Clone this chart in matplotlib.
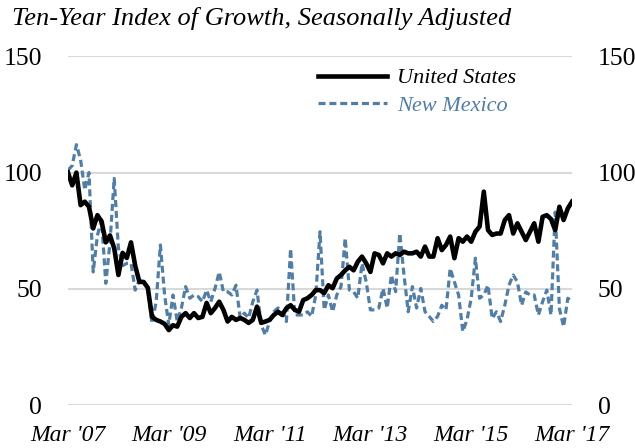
import matplotlib
matplotlib.use("Agg")
import matplotlib.pyplot as plt
import numpy as np

# Monthly index values, Mar 2007 = 100 (seasonally adjusted)
us_index = [
    100, 94.5, 100, 86, 87.5, 85.3, 76, 81.7, 79, 70, 73, 67.5,
    56, 65.5, 63.3, 70, 60, 53, 53, 50.5, 38, 36.7, 36, 35,
    32.3, 34.4, 33.8, 38, 39.6, 37.5, 39.6, 37.5, 38, 44, 39.6, 41.8,
    44.5, 41, 36, 38, 36.7, 37.5, 36.7, 35.4, 36.7, 42.4, 35.4, 36,
    36.7, 38.8, 40.2, 38.8, 41.7, 43, 41, 40.2, 45.2, 46, 47.4, 49.5,
    49.5, 48.2, 51.6, 50.3, 54.5, 56, 58, 59.5, 58, 61.7, 63.9, 61,
    57.3, 65.3, 64.6, 61, 65.3, 63.9, 65.3, 64.6, 66, 65.3, 65.3, 66,
    63.9, 68.2, 63.9, 63.9, 71.8, 66.7, 68.9, 72.5, 63.2, 71.8, 70.3, 72.5,
    70.3, 74.6, 76.8, 91.8, 75.3, 73.2, 73.8, 73.8, 79.6, 81.7, 73.8, 78.2,
    74.6, 71, 74.6, 78.2, 70.3, 81, 81.7, 80, 75.3, 85.3, 79.6, 84.6,
    87.5,
]
nm_index = [
    101, 103, 112, 105.5, 92.5, 100, 57.3, 73, 79.6, 52.4, 70, 97.5,
    67.5, 60, 61, 61, 49.5, 53.8, 53, 50.5, 35.2, 44.5, 68.9, 47.4,
    34.5, 47.4, 36, 41.8, 51, 46, 47.4, 46.7, 44.5, 49.5, 44.5, 50.2,
    57.3, 48.8, 48.8, 47.4, 51.6, 37.5, 39.6, 37.5, 44.5, 49.5, 34.5, 30.2,
    36, 40.2, 41.8, 41, 36, 67.3, 38.8, 38.8, 38.8, 40.2, 38.2, 47.4,
    74.6, 41, 47.4, 40.2, 47.4, 51, 71.8, 49.5, 48.8, 46, 61, 53,
    41, 41, 41.8, 50.2, 41.8, 56, 48.8, 73.9, 56, 40.2, 51, 41.8,
    50.2, 40.2, 38.2, 36, 38.2, 43, 41, 58.8, 53, 47.4, 31.7, 36.7,
    46, 63.2, 46, 47.4, 51.6, 37.3, 40.2, 36, 43, 51.6, 56, 53,
    43, 48.7, 47.4, 47.4, 38.8, 44.5, 49.5, 38.8, 83, 41.6, 33.8, 46,
    44.5,
]
tick_months = [0, 24, 48, 72, 96, 120]
tick_labels = ["Mar '07", "Mar '09", "Mar '11", "Mar '13", "Mar '15", "Mar '17"]
y_ticks = [0, 50, 100, 150]

serif = ["Liberation Serif", "DejaVu Serif"]
nm_color = "#527ea5"

fig = plt.figure(figsize=(6.35, 4.48), dpi=100)
ax = fig.add_axes([68 / 635, 42.7 / 448, 504 / 635, 349.1 / 448])

months = np.arange(len(us_index))
ax.plot(months, nm_index, color=nm_color, lw=2.3, linestyle=(0, (2.2, 1.2)),
        label="New Mexico", zorder=3)
ax.plot(months, us_index, color="black", lw=3.3, label="United States",
        solid_joinstyle="round", zorder=4)

ax.set_xlim(0, len(us_index) - 1)
ax.set_ylim(0, 150)
ax.set_yticks(y_ticks)
ax.set_yticklabels([str(v) for v in y_ticks])
ax.set_xticks(tick_months)
ax.set_xticklabels(tick_labels)
ax.tick_params(axis="y", length=0, pad=18.5, labelleft=True, labelright=True,
               labelsize=18.5)
ax.tick_params(axis="x", length=0, pad=14, labelsize=17)
for t in ax.yaxis.get_major_ticks():
    t.label1.set_family(serif)
    t.label2.set_family(serif)
for lbl in ax.get_xticklabels():
    lbl.set_family(serif)
    lbl.set_style("italic")

ax.grid(axis="y", color="#d9d9d9", lw=1.5, zorder=0)
ax.set_axisbelow(True)
for s in ax.spines.values():
    s.set_visible(False)

# Legend: US first, then New Mexico with label in series colour
handles, labels = ax.get_legend_handles_labels()
leg = ax.legend([handles[1], handles[0]], [labels[1], labels[0]],
                loc="upper left", bbox_to_anchor=(0.456, 1.024), frameon=False,
                handlelength=3.1, handletextpad=0.45, labelspacing=0.3,
                prop={"family": serif, "style": "italic", "size": 16})
leg.get_texts()[1].set_color(nm_color)

fig.text(12 / 635, 1 - 19 / 448, "Ten-Year Index of Growth, Seasonally Adjusted",
         family=serif, style="italic", fontsize=19, va="center", ha="left")

fig.savefig("out.png", dpi=100)
